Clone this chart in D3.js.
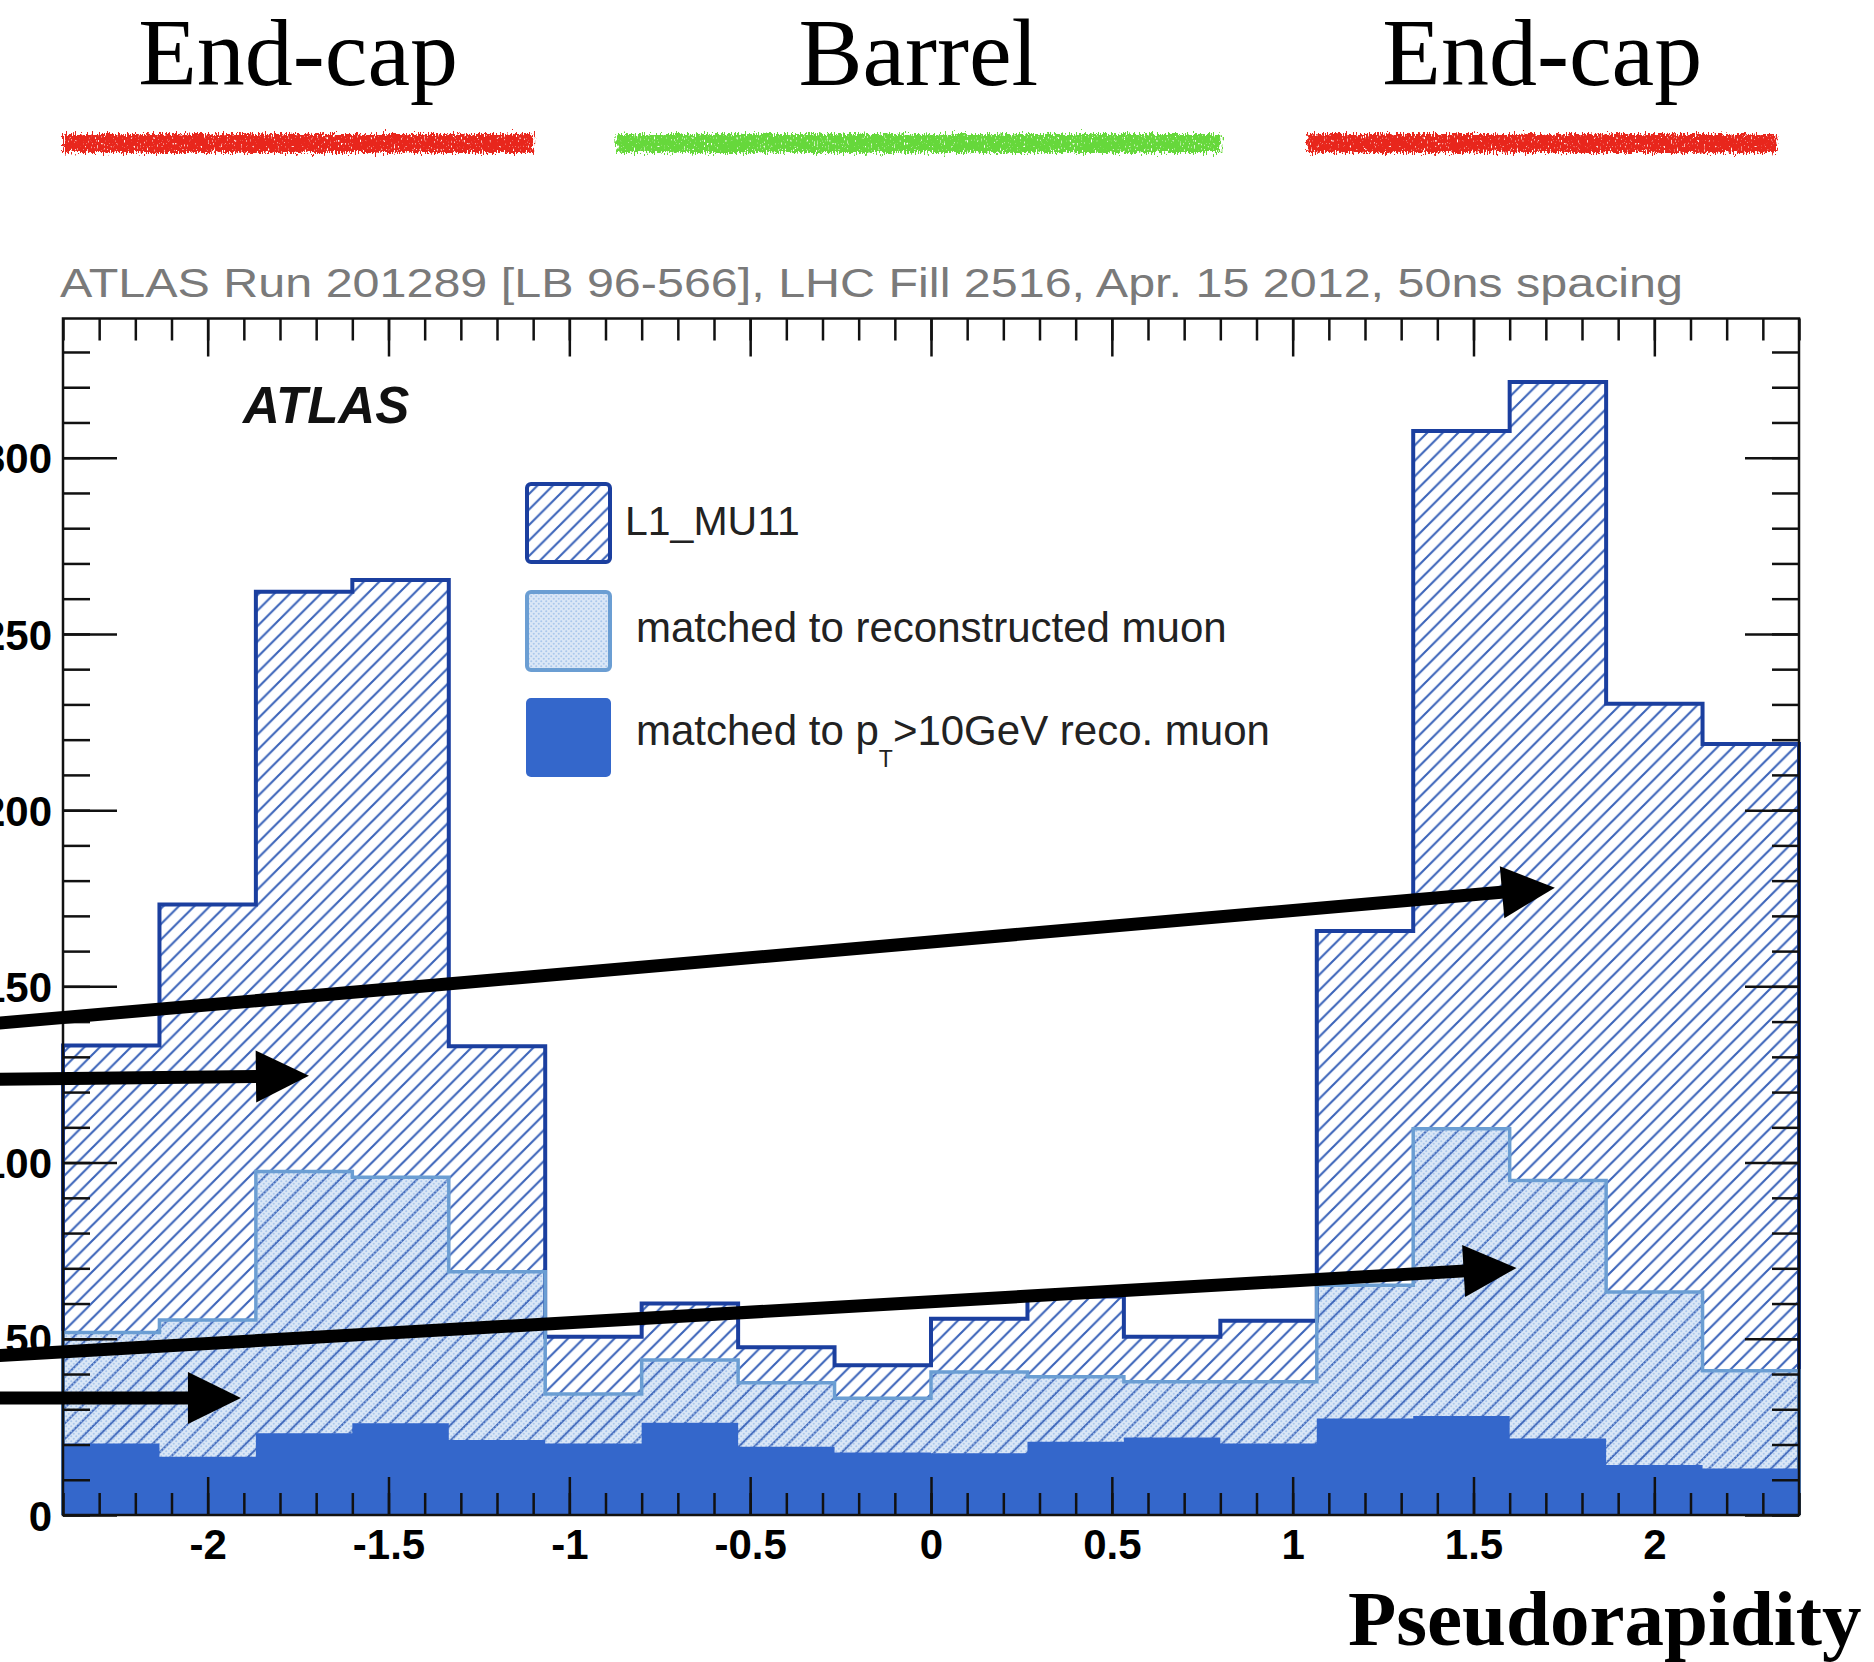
<!DOCTYPE html>
<html><head><meta charset="utf-8">
<script src="https://cdn.jsdelivr.net/npm/d3@7"></script>
<style>html,body{margin:0;padding:0;background:#fff;} svg{display:block;}</style>
</head><body>
<svg id="c" width="1874" height="1662"></svg>
<script>
// ---- data ----
const binEdges = [-2.4, -2.1333, -1.8667, -1.6, -1.3333, -1.0667, -0.8, -0.5333, -0.2667, 0,
                  0.2667, 0.5333, 0.8, 1.0667, 1.3333, 1.6, 1.8667, 2.1333, 2.4];
const l1mu11      = [133.2, 173.2, 262, 265.3, 133, 50.6, 60, 47.6, 42.5, 55.7, 62, 50.6, 55.1, 165.7, 307.6, 321.5, 230.2, 218.8];
const matchedReco = [51.8, 55.3, 97.5, 95.8, 69, 34.3, 44, 37.5, 33.1, 40.6, 39.2, 37.8, 37.8, 65.2, 109.6, 94.9, 63.3, 40.9];
const matchedPt10 = [20.3, 16.5, 23.2, 26, 21.3, 20.3, 26.2, 19.4, 17.7, 17.5, 20.8, 22, 20.3, 27.4, 28.1, 21.7, 14.2, 13.2];
const xTickValues = [-2, -1.5, -1, -0.5, 0, 0.5, 1, 1.5, 2];
const xTickLabels = ["-2", "-1.5", "-1", "-0.5", "0", "0.5", "1", "1.5", "2"];
const yTickValues = [0, 50, 100, 150, 200, 250, 300];
const yTickLabels = ["0", "50", "100", "150", "200", "250", "300"];
const regionNames = ["End-cap", "Barrel", "End-cap"];
const regionRanges = [[-2.40, -1.10], [-0.87, 0.80], [1.04, 2.34]];
const regionColors = ["#e8261b", "#66d83a", "#e8261b"];
const legendLabels = ["L1_MU11", "matched to reconstructed muon", "matched to p", "T", ">10GeV reco. muon"];
const titleText = "ATLAS Run 201289 [LB 96-566], LHC Fill 2516, Apr. 15 2012, 50ns spacing";
const xAxisTitle = "Pseudorapidity";
// annotation arrows in data coordinates [eta, count]
const arrows = [
  {from: [-2.62, 139.2], to: [1.725, 178.0]},
  {from: [-2.62, 123.6], to: [-1.72, 124.6]},
  {from: [-2.62, 45.0],  to: [1.619, 70.1]},
  {from: [-2.62, 33.2],  to: [-1.908, 33.2]}
];

// ---- scales ----
const x = d3.scaleLinear().domain([-2.4, 2.4]).range([63, 1799]);
const y = d3.scaleLinear().domain([0, 339.5]).range([1515, 318.5]);

const svg = d3.select("#c");
const defs = svg.append("defs");

// hatch pattern
const hp = defs.append("pattern").attr("id", "hatch").attr("patternUnits", "userSpaceOnUse")
  .attr("width", 15.5).attr("height", 15.5);
hp.append("path").attr("d", "M0,15.5 L15.5,0 M-2,2 L2,-2 M13.5,17.5 L17.5,13.5")
  .attr("stroke", "#3b64b9").attr("stroke-width", 2.1).attr("fill", "none");
// dots pattern
const dp = defs.append("pattern").attr("id", "dots").attr("patternUnits", "userSpaceOnUse")
  .attr("width", 5).attr("height", 5);
dp.append("circle").attr("cx", 1.25).attr("cy", 1.25).attr("r", 1.05).attr("fill", "#a3c2ea");
dp.append("circle").attr("cx", 3.75).attr("cy", 3.75).attr("r", 1.05).attr("fill", "#a3c2ea");
// rough crayon filter
const f = defs.append("filter").attr("id", "rough").attr("x", "-3%").attr("y", "-80%").attr("width", "106%").attr("height", "260%");
f.append("feTurbulence").attr("type", "fractalNoise").attr("baseFrequency", "0.9 0.22").attr("numOctaves", 2).attr("seed", 4).attr("result", "n");
f.append("feDisplacementMap").attr("in", "SourceGraphic").attr("in2", "n").attr("scale", 12)
  .attr("xChannelSelector", "R").attr("yChannelSelector", "G").attr("result", "d");
f.append("feTurbulence").attr("type", "fractalNoise").attr("baseFrequency", "0.7 0.35").attr("numOctaves", 1).attr("seed", 9).attr("result", "n2");
f.append("feColorMatrix").attr("in", "n2").attr("type", "matrix")
  .attr("values", "0 0 0 0 0  0 0 0 0 0  0 0 0 0 0  0 0 0 -7 5.4").attr("result", "mask");
f.append("feComposite").attr("in", "d").attr("in2", "mask").attr("operator", "in");

// ---- region headers ----
regionNames.forEach((nm, i) => {
  const [a, b] = regionRanges[i];
  svg.append("text").attr("x", (x(a) + x(b)) / 2).attr("y", 85)
    .attr("text-anchor", "middle").attr("font-family", "Liberation Serif, Times New Roman, serif")
    .attr("font-size", 96).attr("fill", "#000").text(nm);
  svg.append("rect").attr("x", x(a)).attr("y", 134).attr("width", x(b) - x(a)).attr("height", 19)
    .attr("fill", regionColors[i]).attr("filter", "url(#rough)");
});

// ---- plot title ----
svg.append("text").attr("x", 60).attr("y", 297).attr("font-family", "Liberation Sans, Arial, sans-serif")
  .attr("font-size", 40).attr("fill", "#7a7a7a").attr("textLength", 1623).attr("lengthAdjust", "spacingAndGlyphs")
  .text(titleText);

// ---- histograms ----
function stepPts(vals) {
  const pts = [[binEdges[0], 0]];
  vals.forEach((v, i) => { pts.push([binEdges[i], v]); pts.push([binEdges[i + 1], v]); });
  pts.push([binEdges[vals.length], 0]);
  return pts;
}
const line = d3.line().x(d => x(d[0])).y(d => y(d[1]));
const g = svg.append("g");
const pL1 = stepPts(l1mu11), pReco = stepPts(matchedReco), pPt = stepPts(matchedPt10);
g.append("path").attr("d", line(pReco) + "Z").attr("fill", "#dbe7f6");
g.append("path").attr("d", line(pL1) + "Z").attr("fill", "url(#hatch)");
g.append("path").attr("d", line(pReco) + "Z").attr("fill", "url(#dots)").attr("opacity", 0.85);
g.append("path").attr("d", line(pL1)).attr("fill", "none").attr("stroke", "#1b3f9f").attr("stroke-width", 4);
g.append("path").attr("d", line(pReco)).attr("fill", "none").attr("stroke", "#6b9ed3").attr("stroke-width", 3.5);
g.append("path").attr("d", line(pPt) + "Z").attr("fill", "#3467cb");

// ---- axes ----
const tickStyle = sel => { sel.select(".domain").remove(); sel.selectAll("line").attr("stroke", "#111").attr("stroke-width", 2.5); };
const minorX = d3.range(-24, 25).map(v => v / 10);
const minorY = d3.range(0, 340, 10);
// bottom
svg.append("g").attr("transform", `translate(0,${y(0)})`)
  .call(d3.axisBottom(x).tickValues(minorX).tickSizeInner(-22).tickSizeOuter(0).tickFormat(""))
  .call(tickStyle);
const gb = svg.append("g").attr("transform", `translate(0,${y(0)})`)
  .call(d3.axisBottom(x).tickValues(xTickValues).tickSizeInner(-38).tickSizeOuter(0).tickFormat((d, i) => xTickLabels[i]))
  .call(tickStyle);
gb.selectAll("text").attr("y", 44).attr("dy", 0).attr("fill", "#000")
  .attr("font-family", "Liberation Sans, Arial, sans-serif").attr("font-weight", "bold").attr("font-size", 42);
// top
svg.append("g").attr("transform", `translate(0,${y(339.5)})`)
  .call(d3.axisTop(x).tickValues(minorX).tickSizeInner(-22).tickSizeOuter(0).tickFormat(""))
  .call(tickStyle);
svg.append("g").attr("transform", `translate(0,${y(339.5)})`)
  .call(d3.axisTop(x).tickValues(xTickValues).tickSizeInner(-38).tickSizeOuter(0).tickFormat(""))
  .call(tickStyle);
// left
svg.append("g").attr("transform", `translate(${x(-2.4)},0)`)
  .call(d3.axisLeft(y).tickValues(minorY).tickSizeInner(-27).tickSizeOuter(0).tickFormat(""))
  .call(tickStyle);
const gl = svg.append("g").attr("transform", `translate(${x(-2.4)},0)`)
  .call(d3.axisLeft(y).tickValues(yTickValues).tickSizeInner(-54).tickSizeOuter(0).tickPadding(11).tickFormat((d, i) => yTickLabels[i]))
  .call(tickStyle);
gl.selectAll("text").attr("fill", "#000").attr("dy", "0.36em")
  .attr("font-family", "Liberation Sans, Arial, sans-serif").attr("font-weight", "bold").attr("font-size", 42);
// right
svg.append("g").attr("transform", `translate(${x(2.4)},0)`)
  .call(d3.axisRight(y).tickValues(minorY).tickSizeInner(-27).tickSizeOuter(0).tickFormat(""))
  .call(tickStyle);
svg.append("g").attr("transform", `translate(${x(2.4)},0)`)
  .call(d3.axisRight(y).tickValues(yTickValues).tickSizeInner(-54).tickSizeOuter(0).tickFormat(""))
  .call(tickStyle);
// frame
svg.append("rect").attr("x", x(-2.4)).attr("y", y(339.5)).attr("width", x(2.4) - x(-2.4)).attr("height", y(0) - y(339.5))
  .attr("fill", "none").attr("stroke", "#111").attr("stroke-width", 2.5);

// ---- ATLAS label ----
svg.append("text").attr("x", 243).attr("y", 423).attr("font-family", "Liberation Sans, Arial, sans-serif")
  .attr("font-weight", "bold").attr("font-style", "italic").attr("font-size", 51).attr("fill", "#111").text("ATLAS");

// ---- legend ----
const lg = svg.append("g").attr("font-family", "Liberation Sans, Arial, sans-serif").attr("font-size", 42).attr("fill", "#222");
lg.append("rect").attr("x", 527).attr("y", 484).attr("width", 83).attr("height", 78).attr("rx", 4)
  .attr("fill", "url(#hatch)").attr("stroke", "#1b3f9f").attr("stroke-width", 4);
lg.append("rect").attr("x", 527).attr("y", 592).attr("width", 83).attr("height", 78).attr("rx", 4)
  .attr("fill", "#dbe7f6").attr("stroke", "#6b9ed3").attr("stroke-width", 4);
lg.append("rect").attr("x", 529).attr("y", 594).attr("width", 79).attr("height", 74)
  .attr("fill", "url(#dots)").attr("opacity", 0.85);
lg.append("rect").attr("x", 526).attr("y", 698).attr("width", 85).attr("height", 79).attr("rx", 5)
  .attr("fill", "#3467cb");
lg.append("text").attr("x", 625).attr("y", 535).attr("font-size", 41).text(legendLabels[0]);
lg.append("text").attr("x", 636).attr("y", 642).text(legendLabels[1]);
const t3 = lg.append("text").attr("x", 636).attr("y", 745);
t3.append("tspan").text(legendLabels[2]);
t3.append("tspan").attr("font-size", 23).attr("dy", 22).text(legendLabels[3]);
t3.append("tspan").attr("dy", -22).text(legendLabels[4]);

// ---- x axis title ----
svg.append("text").attr("x", 1348).attr("y", 1645).attr("font-family", "Liberation Serif, Times New Roman, serif")
  .attr("font-weight", "bold").attr("font-size", 79).attr("fill", "#000").text(xAxisTitle);

// ---- arrows ----
const ag = svg.append("g");
arrows.forEach(a => {
  const p0 = [x(a.from[0]), y(a.from[1])], p1 = [x(a.to[0]), y(a.to[1])];
  const dx = p1[0] - p0[0], dy = p1[1] - p0[1], L = Math.hypot(dx, dy);
  const ux = dx / L, uy = dy / L, nx = -uy, ny = ux;
  const hl = 53, hw = 26;
  const b = [p1[0] - ux * hl, p1[1] - uy * hl];
  ag.append("line").attr("x1", p0[0]).attr("y1", p0[1]).attr("x2", b[0] + ux * 2).attr("y2", b[1] + uy * 2)
    .attr("stroke", "#000").attr("stroke-width", 13);
  ag.append("path").attr("d", `M${p1[0]},${p1[1]} L${b[0] + nx * hw},${b[1] + ny * hw} L${b[0] - nx * hw},${b[1] - ny * hw} Z`)
    .attr("fill", "#000");
});
</script>
</body></html>
